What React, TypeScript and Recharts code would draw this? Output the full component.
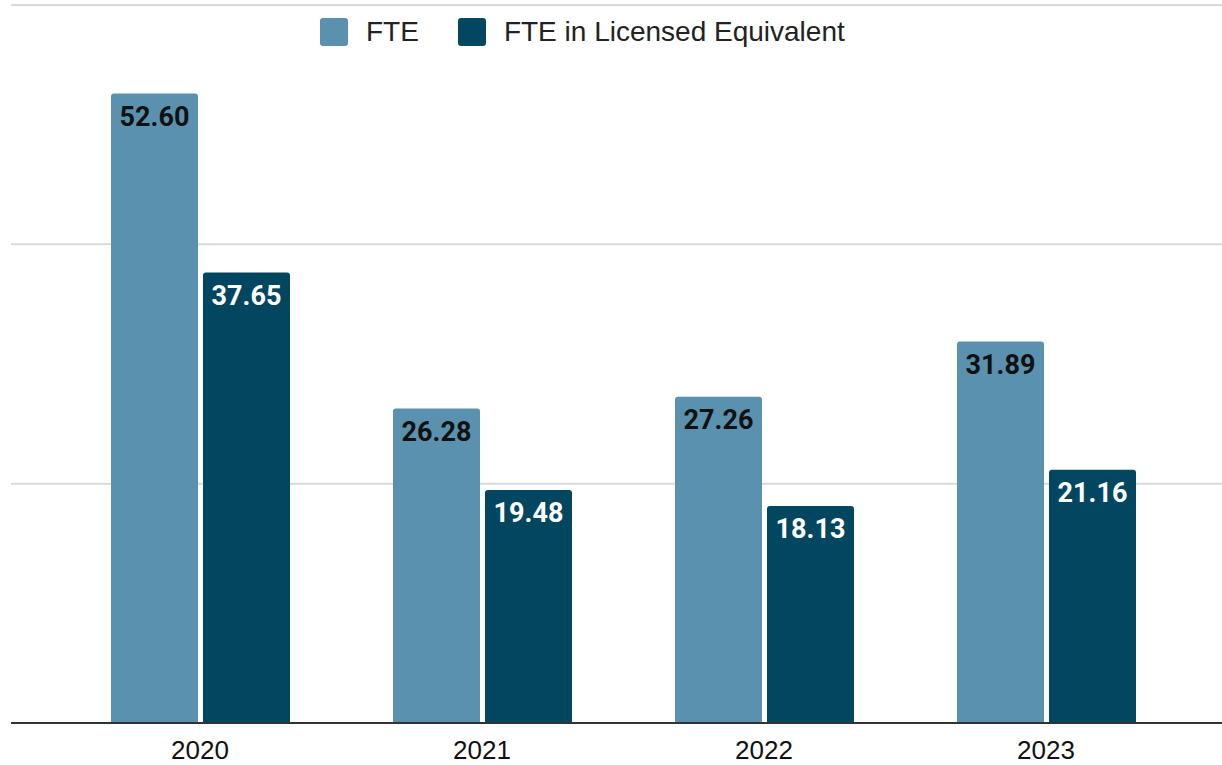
import React from 'react';
import { Bar, BarChart, CartesianGrid, LabelList, Legend, XAxis, YAxis } from 'recharts';

const years = ['2020', '2021', '2022', '2023'];
const fte = [52.6, 26.28, 27.26, 31.89];
const fteLicensed = [37.65, 19.48, 18.13, 21.16];
const yTicks = [0, 20, 40, 60];

const seriesNames = ['FTE', 'FTE in Licensed Equivalent'];
const colors = ['#5a91ae', '#03465f'];

const data = years.map((year, i) => ({ year, fte: fte[i], licensed: fteLicensed[i] }));

const LegendContent = () => (
  <div style={{ display: 'flex', alignItems: 'center', fontFamily: '"Liberation Sans", Arial, sans-serif', fontSize: 28, color: '#222', lineHeight: '28px' }}>
    {seriesNames.map((name, i) => (
      <div key={name} style={{ display: 'flex', alignItems: 'center', marginLeft: i ? 39 : 0 }}>
        <span style={{ width: 28, height: 28, borderRadius: 3, background: colors[i], display: 'inline-block', marginRight: 18 }} />
        <span>{name}</span>
      </div>
    ))}
  </div>
);

const App = () => {
  return (
    <div style={{ position: 'absolute', left: 0, top: 0, background: '#fff' }}>
      <BarChart width={1222} height={765} data={data} margin={{ top: 5, right: 0, bottom: 0, left: 11 }} barGap={5} barCategoryGap={52}>
        <CartesianGrid vertical={false} stroke="#d9d9d9" strokeWidth={2} />
        <XAxis
          dataKey="year"
          height={42}
          padding={{ left: 48, right: 35 }}
          axisLine={{ stroke: '#333', strokeWidth: 2 }}
          tickLine={false}
          tickMargin={12}
          tick={{ fill: '#111', fontSize: 26, fontFamily: '"Liberation Sans", Arial, sans-serif' }}
        />
        <YAxis hide domain={[0, 60]} ticks={yTicks} />
        <Legend
          layout="horizontal"
          verticalAlign="middle"
          align="center"
          wrapperStyle={{ top: 18, left: 320, width: 'auto' }}
          content={LegendContent}
        />
        <Bar dataKey="fte" name={seriesNames[0]} fill={colors[0]} radius={[3, 3, 0, 0]} isAnimationActive={false}>
          <LabelList
            dataKey="fte"
            position="insideTop"
            offset={13}
            formatter={(v: number) => v.toFixed(2)}
            fill="#111"
            fontSize={27}
            fontWeight={700}
            fontFamily="Roboto, sans-serif"
          />
        </Bar>
        <Bar dataKey="licensed" name={seriesNames[1]} fill={colors[1]} radius={[3, 3, 0, 0]} isAnimationActive={false}>
          <LabelList
            dataKey="licensed"
            position="insideTop"
            offset={13}
            formatter={(v: number) => v.toFixed(2)}
            fill="#fff"
            fontSize={27}
            fontWeight={700}
            fontFamily="Roboto, sans-serif"
          />
        </Bar>
      </BarChart>
    </div>
  );
};

export default App;
